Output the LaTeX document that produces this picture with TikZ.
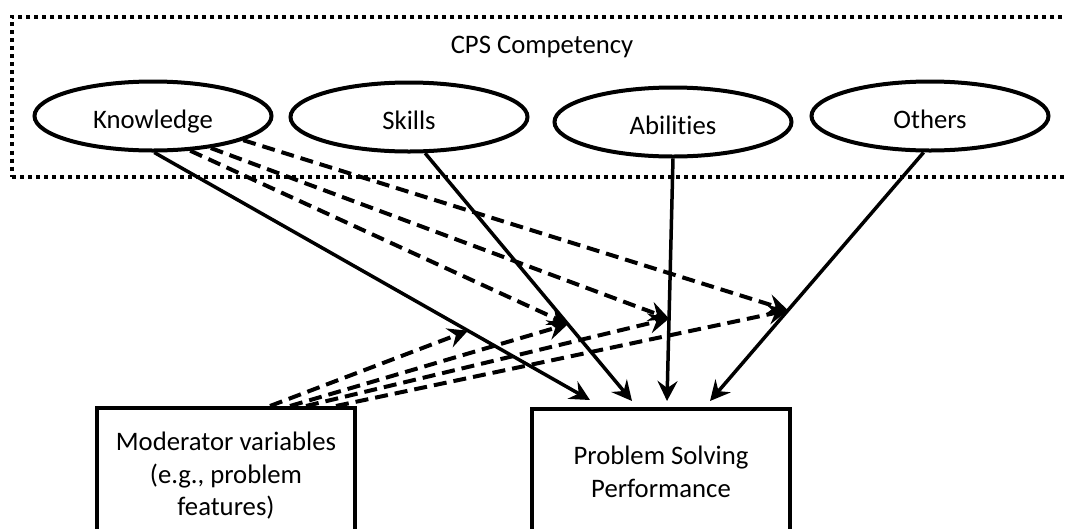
\documentclass[tikz,border=0pt]{standalone}
\usepackage{fontspec}
\setmainfont{Carlito}[Ligatures=NoCommon]
\usetikzlibrary{arrows.meta,shapes.geometric}
\begin{document}
\begin{tikzpicture}[x=1pt,y=-1pt,
  lbl/.style={font=\fontsize{26.7pt}{32.5pt}\selectfont, text=black},
  comp/.style={ellipse, draw, line width=4pt, minimum width=237pt, minimum height=69pt, inner sep=0pt, text height=24pt, text depth=0pt, lbl},
  boxnode/.style={rectangle, draw, line width=4.5pt, minimum width=258pt, align=center, inner sep=0pt, lbl},
  grp/.style={draw, line width=4pt, dash pattern=on 4pt off 4pt, inner sep=0pt},
  tipstyle/.style={-{Stealth[length=20pt,width=20pt,inset=7pt]}},
  solidarrow/.style={line width=3.5pt, tipstyle},
  dasharrow/.style={line width=4pt, dash pattern=on 13pt off 7pt, tipstyle},
]
\useasboundingbox (0,0) rectangle (1066,528);
\clip (0,0) rectangle (1066,528);
\fill[white] (0,0) rectangle (1066,528);

% dotted group frame
\node[grp, minimum width=1073pt, minimum height=160pt] (frame) at (548.5,96.5) {};
\node[lbl] (cpslabel) at (542,47) {CPS Competency};

% competency ellipses
\node[comp] (k) at (153,116) {Knowledge};
\node[comp] (s) at (409,117) {Skills};
\node[comp] (a) at (673,122) {Abilities};
\node[comp] (o) at (930,116) {Others};

% boxes
\node[boxnode, minimum height=136pt] (mod) at (226,476) {Moderator variables\\(e.g., problem\\features)};
\node[boxnode, minimum height=126pt] (psp) at (661,472) {Problem Solving\\Performance};

% arrow ends on the performance box
\coordinate (p1) at (590,400);
\coordinate (p2) at (632,401);
\coordinate (p3) at (667,401);
\coordinate (p4) at (710,401);

% solid paths
\draw[solidarrow] (k.-88) -- (p1);
\draw[solidarrow] (s.-66) -- (p2);
\draw[solidarrow] (a.south) -- (p3);
\draw[solidarrow] (o.-100) -- (p4);

% points on the solid paths
\path (k.-88) -- (p1) coordinate[pos=0.72] (m1);
\path (s.-66) -- (p2) coordinate[pos=0.69] (m2);
\path (a.south) -- (p3) coordinate[pos=0.66] (m3);
\path (o.-100) -- (p4) coordinate[pos=0.635] (m4);

% dashed from knowledge
\draw[dasharrow] (k.-43) -- (m2);
\draw[dasharrow] (k.-29) -- (m3);
\draw[dasharrow] (k.-15) -- (m4);

% dashed from moderator
\coordinate (q1) at (270,406);
\coordinate (q2) at (290,406);
\coordinate (q3) at (306,406);
\coordinate (q4) at (336,406);
\draw[dasharrow] (q1) -- (m1);
\draw[dasharrow] (q2) -- (m2);
\draw[dasharrow] (q3) -- (m3);
\draw[dasharrow] (q4) -- (m4);
\end{tikzpicture}
\end{document}
